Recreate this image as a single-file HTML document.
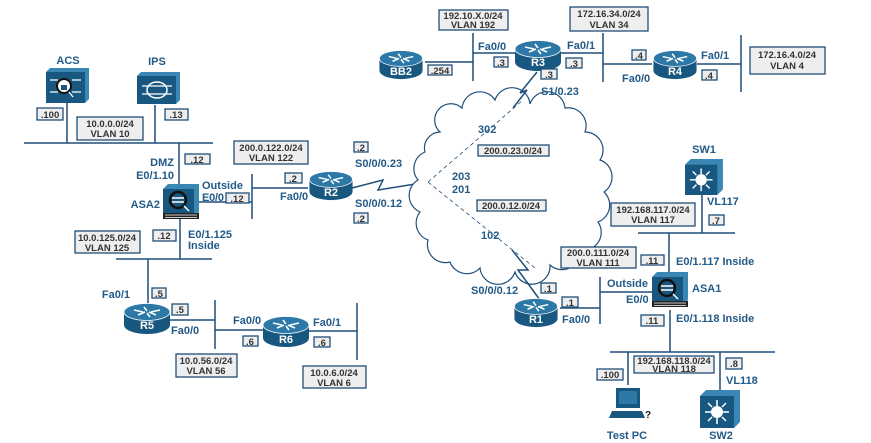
<!DOCTYPE html>
<html><head><meta charset="utf-8"><style>
body{margin:0;background:#fff}
svg{display:block}
text{font-family:"Liberation Sans",Arial,sans-serif;font-weight:bold;fill:#225a88;font-size:11px}
.b{fill:#eeeeee;stroke:#1f4f7a;stroke-width:1.3}
.bt{font-size:9.5px;fill:#333;text-anchor:middle}
.l{stroke:#1f4f7a;stroke-width:1.5;fill:none}
.rl{fill:#fff;font-size:11px;text-anchor:middle}
</style></head><body>
<svg width="871" height="443" viewBox="0 0 871 443">
<defs>
<symbol id="rt" viewBox="0 0 46 32">
<path d="M0 9 V22 A23 9 0 0 0 46 22 V9 Z" fill="#18577f"/>
<ellipse cx="23" cy="9" rx="23" ry="8.5" fill="#2c78a6" stroke="#fff" stroke-width="0.8"/>
<path d="M10 7 L19 9 M14 12 L21 9 M36 7 L27 9 M32 12 L25 9 M20 4 L23 8 M26 14 L23 10" stroke="#fff" stroke-width="1.6"/>
</symbol>
<symbol id="sw" viewBox="0 0 40 38">
<path d="M0 6 L6 0 H40 V32 L34 38 Z" fill="#3b87b3"/>
<rect x="0" y="6" width="34" height="32" fill="#18577f"/>
<circle cx="17" cy="22" r="6" fill="#fff"/>
<path d="M17 10 V16 M17 28 V34 M5 22 H11 M23 22 H29 M8 13 L12 17 M26 13 L22 17 M8 31 L12 27 M26 31 L22 27" stroke="#fff" stroke-width="1.5"/>
</symbol>
<symbol id="asa" viewBox="0 0 36 36">
<path d="M0 5 L5 0 H36 V28 L31 33 Z" fill="#3b87b3"/>
<rect x="0" y="5" width="31" height="24" fill="#18577f"/>
<circle cx="15" cy="16" r="8" fill="none" stroke="#111" stroke-width="2.5"/>
<path d="M9 14 H21 M9 18 H21 M21 22 L26 27" stroke="#fff" stroke-width="1.5"/>
<rect x="0" y="29" width="36" height="6" fill="#222"/>
<path d="M2 31 H34 M2 33.5 H34" stroke="#fff" stroke-width="0.8"/>
</symbol>
</defs>

<path class="l" d="M24 143 H213 M67 103 V143 M155 105 V143 M179 143 V185 M198 202 H252 M252 174 V219 M180 218 V259 M116 259 H212 M148 259 V305 M170 320 H215 M215 300 V349 M215 330 H263 M308 331 H357 M357 303 V360 M252 188 H308"/>
<text x="68" y="64" text-anchor="middle">ACS</text>
<path d="M46 72 L50 68 H89 V99 L85 103 Z" fill="#3b87b3"/>
<rect x="46" y="72" width="39" height="31" fill="#18577f"/>
<circle cx="64" cy="86" r="7" fill="#fff" stroke="#111" stroke-width="2"/>
<rect x="61" y="85" width="6" height="5" fill="#18577f"/>
<path d="M50 80 H58 M50 92 H58 M72 80 H81 M72 92 H81 M69 92 L73 97" stroke="#fff" stroke-width="1.3"/>
<text x="157" y="65" text-anchor="middle">IPS</text>
<path d="M137 76 L141 72 H180 V100 L176 104 Z" fill="#3b87b3"/>
<rect x="137" y="76" width="39" height="28" fill="#18577f"/>
<ellipse cx="157" cy="90" rx="10" ry="8" fill="none" stroke="#fff" stroke-width="1.5"/>
<path d="M142 86 H172 M142 94 H172" stroke="#fff" stroke-width="1.3"/>
<rect class="b" x="37" y="108" width="26" height="12"/><text class="bt" x="50" y="118">.100</text>
<rect class="b" x="165" y="109" width="23" height="11"/><text class="bt" x="176" y="118">.13</text>
<rect class="b" x="77" y="117" width="66" height="23"/><text class="bt" x="110" y="127">10.0.0.0/24</text><text class="bt" x="110" y="137">VLAN 10</text>
<rect class="b" x="185" y="154" width="25" height="10"/><text class="bt" x="197" y="163">.12</text>
<text x="174" y="166" text-anchor="end">DMZ</text>
<text x="174" y="179" text-anchor="end">E0/1.10</text>
<use href="#asa" x="163" y="184" width="36" height="36"/>
<text x="160" y="208" text-anchor="end">ASA2</text>
<text x="202" y="189">Outside</text>
<text x="202" y="201" textLength="22">E0/0</text>
<rect class="b" x="226" y="193" width="23" height="10"/><text class="bt" x="237" y="202">.12</text>
<rect class="b" x="153" y="230" width="23" height="11"/><text class="bt" x="164" y="239">.12</text>
<text x="188" y="238">E0/1.125</text>
<text x="188" y="249">Inside</text>
<rect class="b" x="75" y="231" width="65" height="22"/><text class="bt" x="107" y="241">10.0.125.0/24</text><text class="bt" x="107" y="251">VLAN 125</text>
<use href="#rt" x="124" y="303" width="46" height="32"/><text class="rl" x="147" y="329">R5</text>
<text x="116" y="298" text-anchor="middle">Fa0/1</text>
<rect class="b" x="152" y="288" width="14" height="10"/><text class="bt" x="159" y="297">.5</text>
<rect class="b" x="172" y="304" width="16" height="11"/><text class="bt" x="180" y="313">.5</text>
<text x="171" y="334">Fa0/0</text>
<use href="#rt" x="263" y="316" width="46" height="32"/><text class="rl" x="286" y="343">R6</text>
<text x="233" y="324">Fa0/0</text>
<rect class="b" x="243" y="336" width="15" height="10"/><text class="bt" x="250" y="345">.6</text>
<text x="313" y="326">Fa0/1</text>
<rect class="b" x="314" y="337" width="16" height="10"/><text class="bt" x="322" y="346">.6</text>
<rect class="b" x="176" y="354" width="61" height="23"/><text class="bt" x="206" y="364">10.0.56.0/24</text><text class="bt" x="206" y="374">VLAN 56</text>
<rect class="b" x="303" y="366" width="63" height="22"/><text class="bt" x="334" y="376">10.0.6.0/24</text><text class="bt" x="334" y="386">VLAN 6</text>
<rect class="b" x="234" y="141" width="74" height="23"/><text class="bt" x="271" y="151">200.0.122.0/24</text><text class="bt" x="271" y="161">VLAN 122</text>
<rect class="b" x="285" y="173" width="17" height="10"/><text class="bt" x="293" y="182">.2</text>
<text x="280" y="200">Fa0/0</text>
<use href="#rt" x="308" y="171" width="46" height="30"/><text class="rl" x="331" y="196">R2</text>
<path class="l" stroke-width="1" d="M352 188 L383 180 L378 190 L428 182"/>
<rect class="b" x="354" y="142" width="14" height="10"/><text class="bt" x="361" y="151">.2</text>
<text x="355" y="167">S0/0/0.23</text>
<text x="355" y="207">S0/0/0.12</text>
<rect class="b" x="354" y="213" width="14" height="10"/><text class="bt" x="361" y="222">.2</text>
<path d="M440 132 A16 16 0 0 1 462 108 A18 18 0 0 1 495 100 A18 18 0 0 1 530 104 A18 18 0 0 1 565 108 A18 18 0 0 1 585 132 A18 18 0 0 1 600 160 A18 18 0 0 1 604 192 A18 18 0 0 1 598 222 A18 18 0 0 1 580 250 A18 18 0 0 1 550 265 A18 18 0 0 1 515 272 A18 18 0 0 1 480 268 A18 18 0 0 1 450 262 A18 18 0 0 1 428 240 A18 18 0 0 1 420 212 A18 18 0 0 1 418 180 A18 18 0 0 1 425 152 A16 16 0 0 1 440 132 Z" fill="#fff" stroke="#1f4f7a" stroke-width="1.2"/>
<path d="M428 182 L523 100 M428 182 L535 268" stroke="#1f4f7a" stroke-width="0.8" stroke-dasharray="4,3" fill="none"/>
<text x="478" y="133">302</text>
<text x="452" y="180">203</text>
<text x="452" y="193">201</text>
<text x="481" y="239">102</text>
<rect class="b" x="478" y="145" width="71" height="11"/><text class="bt" x="513" y="154">200.0.23.0/24</text>
<rect class="b" x="477" y="200" width="69" height="11"/><text class="bt" x="511" y="209">200.0.12.0/24</text>
<path class="l" d="M425 62 H473 M473 33 V81 M473 53 H515 M560 53 H603 M603 33 V82 M603 64 H652 M697 64 H741 M741 35 V92"/>
<use href="#rt" x="378" y="50" width="46" height="30"/><text class="rl" x="401" y="75">BB2</text>
<rect class="b" x="428" y="65" width="24" height="10"/><text class="bt" x="440" y="74">.254</text>
<rect class="b" x="439" y="10" width="69" height="20"/><text class="bt" x="473" y="19">192.10.X.0/24</text><text class="bt" x="473" y="28">VLAN 192</text>
<text x="478" y="50">Fa0/0</text>
<rect class="b" x="494" y="57" width="14" height="10"/><text class="bt" x="501" y="66">.3</text>
<use href="#rt" x="515" y="40" width="46" height="32"/><text class="rl" x="538" y="66">R3</text>
<text x="567" y="49">Fa0/1</text>
<rect class="b" x="566" y="58" width="16" height="10"/><text class="bt" x="574" y="67">.3</text>
<rect class="b" x="570" y="7" width="78" height="24"/><text class="bt" x="609" y="17">172.16.34.0/24</text><text class="bt" x="609" y="28">VLAN 34</text>
<rect class="b" x="632" y="50" width="14" height="10"/><text class="bt" x="639" y="59">.4</text>
<text x="622" y="82">Fa0/0</text>
<use href="#rt" x="652" y="50" width="46" height="30"/><text class="rl" x="675" y="75">R4</text>
<text x="701" y="59">Fa0/1</text>
<rect class="b" x="702" y="70" width="15" height="10"/><text class="bt" x="709" y="79">.4</text>
<rect class="b" x="750" y="47" width="75" height="27"/><text class="bt" x="787" y="58">172.16.4.0/24</text><text class="bt" x="787" y="69">VLAN 4</text>
<rect class="b" x="541" y="69" width="16" height="10"/><text class="bt" x="549" y="78">.3</text>
<text x="541" y="95">S1/0.23</text>
<path class="l" stroke-width="1" d="M537 72 L520 93 L527 90 L513 108"/>
<path class="l" stroke-width="1" d="M512 250 L528 270 L518 270 L540 300"/>
<use href="#rt" x="512" y="298" width="48" height="30"/><text class="rl" x="536" y="323">R1</text>
<rect class="b" x="541" y="283" width="15" height="10"/><text class="bt" x="548" y="292">.1</text>
<text x="471" y="294">S0/0/0.12</text>
<rect class="b" x="562" y="297" width="16" height="10"/><text class="bt" x="570" y="306">.1</text>
<text x="562" y="323">Fa0/0</text>
<path class="l" d="M560 308 H600 M600 277 V324 M600 292 H652 M669 233 V272 M638 233 H735 M702 195 V233 M670 310 V352 M610 352 H775 M628 352 V385 M720 352 V392"/>
<text x="607" y="287">Outside</text>
<text x="626" y="303">E0/0</text>
<use href="#asa" x="652" y="272" width="36" height="36"/>
<text x="692" y="292">ASA1</text>
<rect class="b" x="641" y="255" width="23" height="10"/><text class="bt" x="652" y="264">.11</text>
<text x="676" y="265">E0/1.117 Inside</text>
<rect class="b" x="561" y="247" width="75" height="21"/><text class="bt" x="598" y="256">200.0.111.0/24</text><text class="bt" x="598" y="266">VLAN 111</text>
<text x="704" y="153" text-anchor="middle">SW1</text>
<use href="#sw" x="685" y="159" width="38" height="36"/>
<text x="707" y="205">VL117</text>
<rect class="b" x="709" y="215" width="15" height="10"/><text class="bt" x="716" y="224">.7</text>
<rect class="b" x="611" y="203" width="84" height="23"/><text class="bt" x="653" y="213">192.168.117.0/24</text><text class="bt" x="653" y="223">VLAN 117</text>
<rect class="b" x="641" y="315" width="23" height="11"/><text class="bt" x="652" y="324">.11</text>
<text x="676" y="322">E0/1.118 Inside</text>
<rect class="b" x="597" y="369" width="26" height="11"/><text class="bt" x="610" y="378">.100</text>
<rect class="b" x="634" y="356" width="80" height="17"/><text class="bt" x="674" y="364">192.168.118.0/24</text><text class="bt" x="674" y="372">VLAN 118</text>
<rect class="b" x="726" y="358" width="16" height="11"/><text class="bt" x="734" y="367">.8</text>
<text x="726" y="384">VL118</text>
<rect x="616" y="388" width="24" height="20" fill="#18577f"/>
<rect x="619" y="391" width="18" height="13" fill="#2c78a6"/>
<path d="M612 411 H642 L645 418 H609 Z" fill="#18577f"/>
<text x="645" y="418" style="fill:#111;font-size:10px">?</text>
<text x="627" y="439" text-anchor="middle">Test PC</text>
<use href="#sw" x="700" y="390" width="40" height="38"/>
<text x="721" y="439" text-anchor="middle">SW2</text>
</svg>
</body></html>
